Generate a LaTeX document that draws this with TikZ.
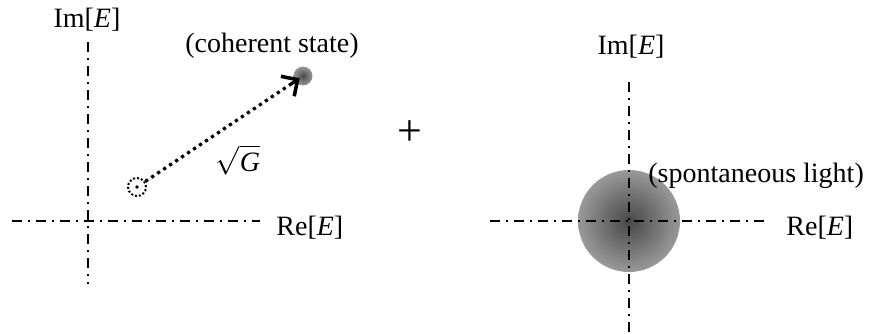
\documentclass[tikz,border=0pt]{standalone}
\usepackage{amsmath}
\usepackage{fontspec}
\setmainfont{Liberation Serif}
\usetikzlibrary{arrows.meta, calc}

\tikzset{
  axis/.style={line width=1.4pt, dash pattern=on 5pt off 3pt on 1pt off 3pt},
  lbl/.style={font=\fontsize{14}{16}\selectfont, inner sep=1pt},
  blob/.style={circle, shading=radial, inner color=black!72, outer color=black!40, inner sep=0pt},
  barb/.style={-{Straight Barb[length=6pt, width=12pt, line width=1.8pt]}}
}

\begin{document}
\begin{tikzpicture}[x=0.5pt, y=-0.5pt]
        \useasboundingbox (0,0) rectangle (872,333);

        % Left axes
        \coordinate (lt) at (88,42);
        \coordinate (lb) at (88,284);
        \coordinate (ll) at (12,221);
        \coordinate (lr) at (260,221);
        \draw[axis] (lt) -- (lb);
        \draw[axis] (ll) -- (lr);
        \node[lbl] (im1) at (87,20) {Im[\textit{E}]};
        \node[lbl, anchor=west] (re1) at (274,228) {Re[\textit{E}]};

        % Draw nodes
        \node[circle, draw, densely dotted, line width=1pt, minimum size=9pt, inner sep=0pt] (vac) at (137,187) {};
        \fill (vac) circle (0.9pt);
        \node[blob, minimum size=9.5pt] (coh) at (303,76) {};
        \node[lbl] (cohlbl) at (272,46) {(coherent state)};

        % Draw connections
        \draw[line width=1.6pt, dotted, shorten >=3pt] (vac) -- (coh.center);
        \draw[line width=1.6pt, solid, barb, shorten >=2pt] ($(vac)!0.93!(coh.center)$) -- (coh.center);
        \node[lbl] (gain) at (238,160) {$\sqrt{\text{\itshape G}}$};

        \node[lbl, font=\fontsize{22}{24}\selectfont] (plus) at (410,133) {+};

        % Right axes
        \node[blob, minimum size=51pt] (spon) at (629,221) {};
        \coordinate (rt) at (629,82);
        \coordinate (rb) at (629,333);
        \coordinate (rl) at (490,221);
        \coordinate (rr) at (765,221);
        \draw[axis] (rt) -- (rb);
        \draw[axis] (rl) -- (rr);
        \node[lbl] (im2) at (631,47) {Im[\textit{E}]};
        \node[lbl, anchor=west] (re2) at (784,228) {Re[\textit{E}]};
        \node[lbl, anchor=west] (sponlbl) at (646,176) {(spontaneous light)};
\end{tikzpicture}
\end{document}
